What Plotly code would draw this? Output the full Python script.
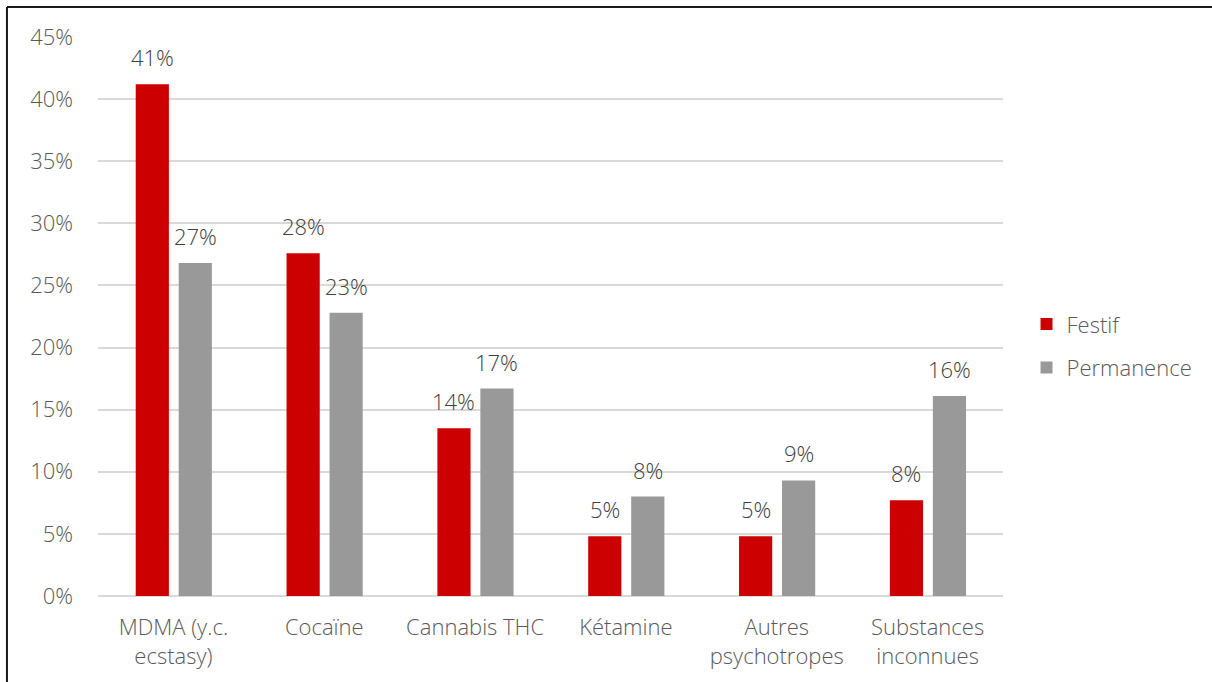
import plotly.graph_objects as go

categories = ["MDMA (y.c.<br>ecstasy)", "Cocaïne", "Cannabis THC", "Kétamine",
              "Autres<br>psychotropes", "Substances<br>inconnues"]
festif = [0.412, 0.276, 0.135, 0.048, 0.048, 0.077]
permanence = [0.268, 0.228, 0.167, 0.080, 0.093, 0.161]
y_ticks = [0, 0.05, 0.10, 0.15, 0.20, 0.25, 0.30, 0.35, 0.40, 0.45]

FONT = "Open Sans, Noto Sans, sans-serif"
TXT = "#595959"
LBL = "#404040"
FS = 22

series = [
    ("Festif", festif, "#cc0000", -0.25, "a"),
    ("Permanence", permanence, "#999999", 0.035, "b"),
]
BAR_W = 0.22
CAT_PX = 905 / len(categories)

fig = go.Figure()
annotations = []
for name, vals, color, off, grp in series:
    fig.add_trace(go.Bar(
        x=categories, y=vals, name=name, legendgroup=grp,
        marker=dict(color=color, line=dict(width=0)),
        width=BAR_W, offset=off,
    ))
    # value labels above each bar
    shift = (off + BAR_W / 2) * CAT_PX
    for c, v in zip(categories, vals):
        annotations.append(dict(
            x=c, y=v, xref="x", yref="y", text=f"{v:.0%}",
            showarrow=False, xanchor="center", yanchor="bottom",
            xshift=shift, yshift=10,
            font=dict(size=FS, color=LBL, family=FONT, weight=300),
        ))

# frame lines on top and left edges
fig.add_shape(type="line", xref="paper", yref="paper",
              x0=-0.1006, x1=1.25, y0=1.0537, y1=1.0537,
              line=dict(color="#1a1a1a", width=2))
fig.add_shape(type="line", xref="paper", yref="paper",
              x0=-0.1006, x1=-0.1006, y0=1.0537, y1=-0.2,
              line=dict(color="#1a1a1a", width=2))

fig.update_layout(
    width=1212, height=682,
    margin=dict(l=98, r=209, t=37, b=86),
    paper_bgcolor="white", plot_bgcolor="white",
    barmode="overlay",
    font=dict(family=FONT, size=FS, color=TXT, weight=300),
    annotations=annotations,
    legend=dict(x=1.026, y=0.447, xanchor="left", yanchor="middle",
                font=dict(size=FS, color=TXT, weight=300), tracegroupgap=12,
                itemwidth=30),
    xaxis=dict(showgrid=False, showline=False, ticks="",
               ticklabelstandoff=16,
               tickfont=dict(size=FS, color=TXT, weight=300)),
    yaxis=dict(range=[0, 0.45], tickvals=y_ticks, tickformat=".0%",
               showgrid=True, gridcolor="#d9d9d9", gridwidth=1.5,
               zeroline=True, zerolinecolor="#d9d9d9", zerolinewidth=1.5,
               showline=False, ticks="", ticklabelstandoff=24,
               tickfont=dict(size=FS, color=TXT, weight=300)),
)

fig.write_html("out.html")
